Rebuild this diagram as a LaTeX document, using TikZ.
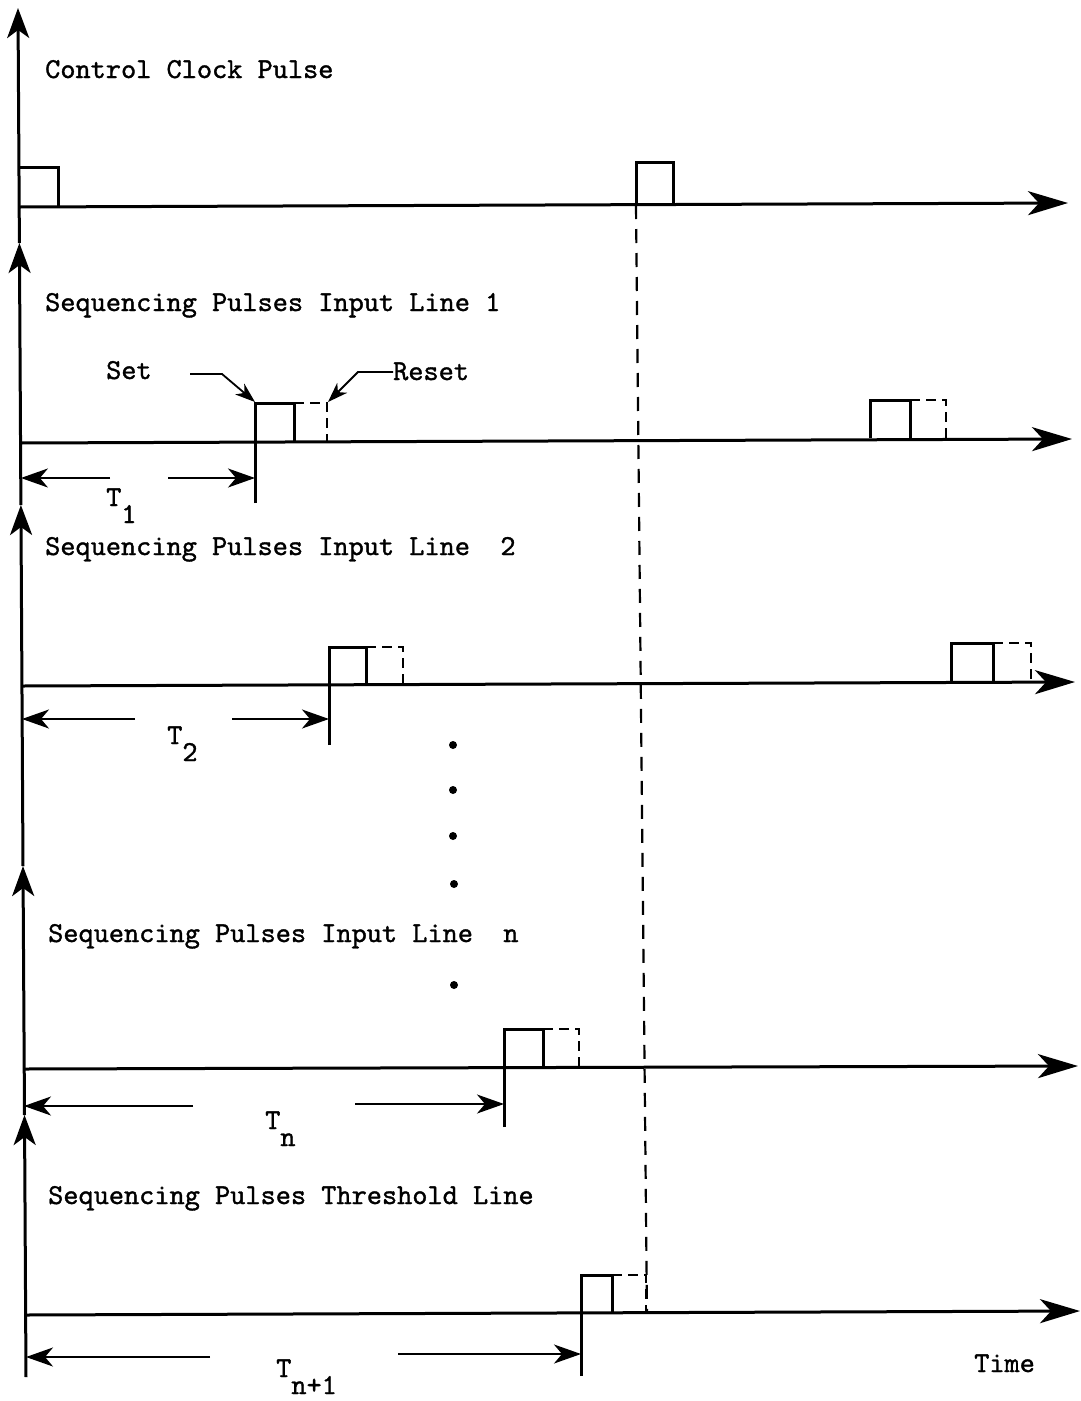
\documentclass[tikz,border=0pt]{standalone}
\usepackage{fontspec}
\usetikzlibrary{arrows.meta}
\newfontfamily\twfont{lmmono10-regular.otf}[FakeBold=1.2]
\newcommand{\lbfont}{\twfont\fontsize{28.9}{31}\selectfont}
\newcommand{\tsub}[1]{\raisebox{-17pt}{#1}}
\begin{document}
\begin{tikzpicture}[x=1pt,y=-1pt,
  vaxis/.style={line width=3pt,-{Stealth[length=30pt,width=22pt,inset=8pt]}},
  haxis/.style={line width=3pt,-{Stealth[length=40pt,width=24pt,inset=11pt]}},
  dim/.style={line width=2pt,-{Stealth[length=27pt,width=19pt,inset=8pt]}},
  ptr/.style={line width=1.8pt,-{Stealth[length=20pt,width=14pt,inset=6pt]}},
  pulse/.style={line width=3pt,line join=miter},
  dpulse/.style={line width=2.4pt,dash pattern=on 10pt off 6pt},
  longdash/.style={line width=2.2pt,dash pattern=on 14pt off 10pt},
  lbl/.style={font=\lbfont,anchor=base west,inner sep=0pt},
  dotm/.style={circle,fill,inner sep=0pt,minimum size=8pt}]
\useasboundingbox (0,0) rectangle (1081,1401);
\fill[white] (0,0) rectangle (1081,1401);

% ---------- left vertical axes ----------
\coordinate (v1b) at (19.4,243); \coordinate (v1t) at (18,8);
\coordinate (v2b) at (20.9,505); \coordinate (v2t) at (19.4,243);
\coordinate (v3b) at (23,866);   \coordinate (v3t) at (20.9,505);
\coordinate (v4b) at (24.5,1115);\coordinate (v4t) at (23,866);
\coordinate (v5b) at (26,1377);  \coordinate (v5t) at (24.5,1115);
\draw[vaxis] (v1b) -- (v1t);
\draw[vaxis] (v2b) -- (v2t);
\draw[vaxis] (v3b) -- (v3t);
\draw[vaxis] (v4b) -- (v4t);
\draw[vaxis] (v5b) -- (v5t);

% ---------- horizontal axes ----------
\coordinate (h1a) at (19,207);  \coordinate (h1b) at (1068,203);
\coordinate (h2a) at (20,443);  \coordinate (h2b) at (1072,439);
\coordinate (h3a) at (22,686);  \coordinate (h3b) at (1075,682);
\coordinate (h4a) at (24,1069); \coordinate (h4b) at (1078,1066);
\coordinate (h5a) at (25,1315); \coordinate (h5b) at (1080,1311);
\draw[haxis] (h1a) -- (h1b);
\draw[haxis] (h2a) -- (h2b);
\draw[haxis] (h3a) -- (h3b);
\draw[haxis] (h4a) -- (h4b);
\draw[haxis] (h5a) -- (h5b);

% ---------- clock pulses ----------
\draw[pulse] (19,167) -- (58,167) -- (58,207);
\draw[pulse] (636,203) -- (636,162) -- (673,162) -- (673,203);

% ---------- long dashed timing line ----------
\draw[longdash] (636,205) -- (647,1313);

% ---------- input line 1 ----------
\draw[pulse] (255,503) -- (255,403) -- (294,403) -- (294,443);
\draw[dpulse] (294,403) -- (327,403) -- (327,443);
\draw[pulse] (870,438) -- (870,400) -- (910,400) -- (910,438);
\draw[dpulse] (910,400) -- (946,400) -- (946,438);

% ---------- input line 2 ----------
\draw[pulse] (329,745) -- (329,647) -- (366,647) -- (366,686);
\draw[dpulse] (366,647) -- (403,647) -- (403,686);
\draw[pulse] (951,681) -- (951,643) -- (993,643) -- (993,681);
\draw[dpulse] (993,643) -- (1031,643) -- (1031,681);

% ---------- input line n ----------
\draw[pulse] (504,1127) -- (504,1029) -- (543,1029) -- (543,1068);
\draw[dpulse] (543,1029) -- (579,1029) -- (579,1068);

% ---------- threshold line ----------
\draw[pulse] (581,1376) -- (581,1275) -- (612,1275) -- (612,1313);
\draw[dpulse] (612,1275) -- (646,1275) -- (646,1313);

% ---------- labels ----------
\node[lbl] (lclock) at (45,78) {Control Clock Pulse};
\node[lbl] (lin1) at (45,311) {Sequencing Pulses Input Line 1};
\node[lbl] (lin2) at (45,555) {Sequencing Pulses Input Line~~2};
\node[lbl] (linn) at (48,942) {Sequencing Pulses Input Line~~n};
\node[lbl] (lthr) at (48,1204) {Sequencing Pulses Threshold Line};
\node[lbl] (lset) at (106,379) {Set};
\node[lbl] (lreset) at (393,380) {Reset};
\node[lbl] (ltime) at (974,1372) {Time};

% Set / Reset pointers
\draw[ptr] (190,374) -- (222,374) -- (255,402);
\draw[ptr] (lreset.west |- 0,372) -- (358,372) -- (328,402);

% ---------- interval labels ----------
\node[lbl] (t1) at (106,506) {T\tsub{1}};
\node[lbl] (t2) at (167,744) {T\tsub{2}};
\node[lbl] (tn) at (265,1129) {T\tsub{n}};
\node[lbl] (tn1) at (276,1377) {T\tsub{n+1}};

% ---------- interval arrows ----------
\draw[dim] (110,478) -- (v2b |- 0,478);
\draw[dim] (168,478) -- (255,478);
\draw[dim] (135,719) -- (22,719);
\draw[dim] (232,719) -- (329,719);
\draw[dim] (193,1106) -- (24,1106);
\draw[dim] (355,1104) -- (504,1104);
\draw[dim] (210,1357) -- (26,1357);
\draw[dim] (398,1354) -- (581,1354);

% ---------- dots ----------
\node[dotm] (d1) at (453,745) {};
\node[dotm] (d2) at (453,790) {};
\node[dotm] (d3) at (453,836) {};
\node[dotm] (d4) at (454,884) {};
\node[dotm] (d5) at (454,985) {};
\end{tikzpicture}
\end{document}
